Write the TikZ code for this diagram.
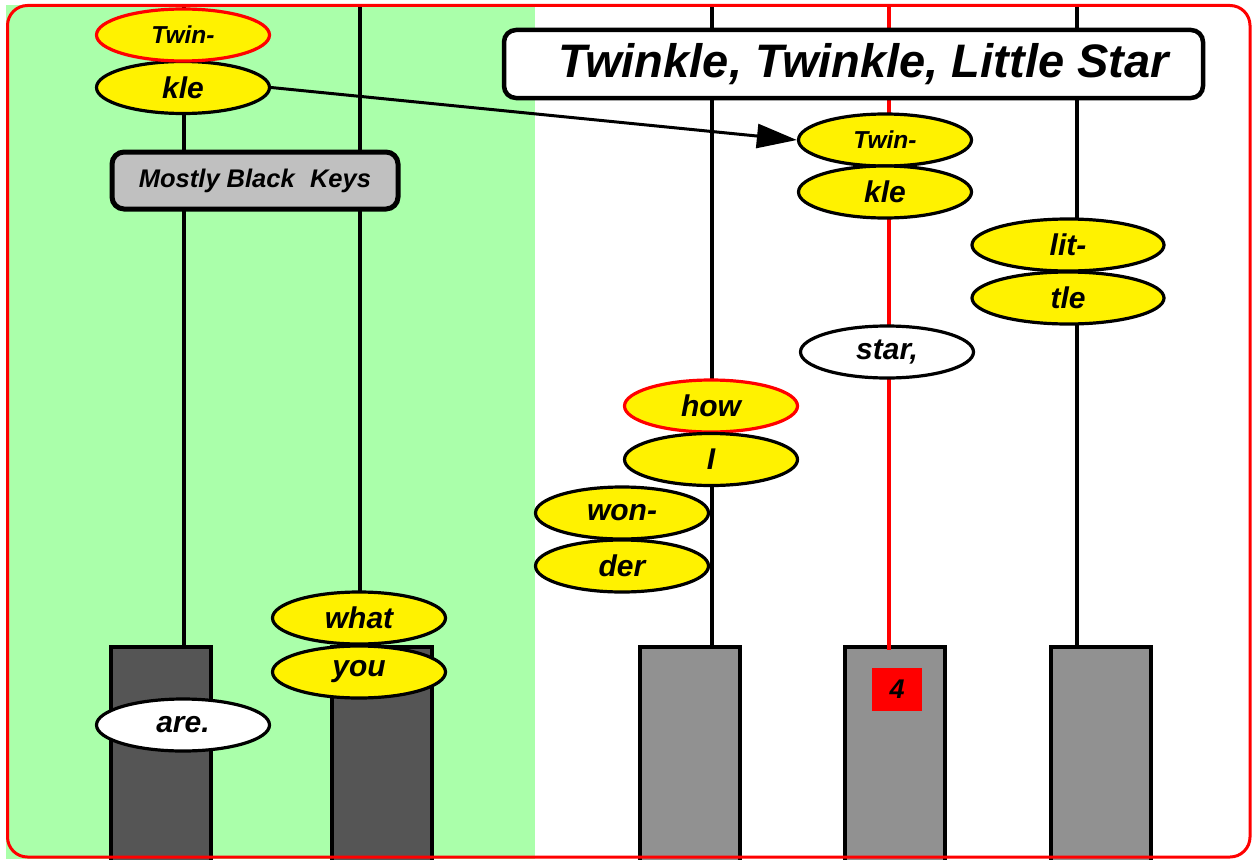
\documentclass[tikz,border=0pt]{standalone}
\usepackage{fontspec}
\setmainfont{Liberation Sans}
\usetikzlibrary{shapes.geometric,arrows.meta}
\definecolor{bggreen}{HTML}{AAFFAA}
\definecolor{darkkey}{HTML}{555555}
\definecolor{lightkey}{HTML}{919191}
\definecolor{labelgray}{HTML}{C0C0C0}
\begin{document}
\begin{tikzpicture}[x=1pt,y=-1pt,
  syl/.style={ellipse, draw=black, line width=3.2pt, fill=yellow,
    minimum width=173pt, minimum height=52pt, inner sep=0pt,
    font=\fontsize{30pt}{32pt}\selectfont\bfseries\itshape},
  sylsmall/.style={syl, font=\fontsize{24.5pt}{26pt}\selectfont\bfseries\itshape},
  wide/.style={minimum width=192pt},
  redrim/.style={draw=red},
  plain/.style={fill=white},
  keydark/.style={rectangle, draw=black, line width=4pt, fill=darkkey,
    minimum width=100pt, minimum height=222pt, anchor=north, inner sep=0pt},
  keylight/.style={keydark, fill=lightkey},
  string/.style={line width=3.2pt, draw=black},
  redstring/.style={line width=3.2pt, draw=red},
  titlebox/.style={rectangle, rounded corners=12pt, draw=black, line width=4.5pt,
    fill=white, minimum width=699pt, minimum height=68pt, inner sep=0pt,
    font=\fontsize{47pt}{50pt}\selectfont\bfseries\itshape},
  groupbox/.style={rectangle, rounded corners=12pt, draw=black, line width=5pt,
    fill=labelgray, minimum width=286pt, minimum height=57pt, inner sep=0pt,
    font=\fontsize{25.5pt}{27pt}\selectfont\bfseries\itshape},
  fingerbox/.style={rectangle, fill=red, minimum width=50pt, minimum height=43pt,
    inner sep=0pt, font=\fontsize{27pt}{29pt}\selectfont\bfseries\itshape},
  arrowline/.style={line width=3pt, -{Triangle[length=40pt,width=24pt]}}
]
\useasboundingbox (0,0) rectangle (1252,859);
% backgrounds
\fill[white] (0,0) rectangle (1252,859);
\fill[bggreen] (6,5) rectangle (535,859);

% string tops
\coordinate (top1) at (184,5);
\coordinate (top2) at (360,5);
\coordinate (top3) at (712,5);
\coordinate (top4) at (889,5);
\coordinate (top5) at (1077,5);

% keys
\node[keydark]  (key1) at (161,645) {};
\node[keydark]  (key2) at (381.5,645) {};
\node[keylight] (key3) at (689.5,645) {};
\node[keylight] (key4) at (895,645) {};
\node[keylight] (key5) at (1100.5,645) {};

% strings
\draw[string] (top1) -- (top1 |- key1.north);
\draw[string] (top2) -- (top2 |- key2.north);
\draw[string] (top3) -- (top3 |- key3.north);
\draw[redstring] (top4) -- ([yshift=-5pt]top4 |- key4.north);
\draw[string] (top5) -- (top5 |- key5.north);

\node[fingerbox] (finger) at (897,689.5) {4};

% title
\node[titlebox] (title) at (853.5,64) {\hspace{20pt}Twinkle, Twinkle, Little Star};

% group label
\node[groupbox] (group) at (255,180.5) {Mostly Black\hspace{0.6em}Keys};

% syllables
\node[syl] (kleL) at (183,87.5) {kle};
\node[sylsmall, redrim] (twinL) at (183,35) {Twin-};
\node[sylsmall] (twinR) at (885,140) {Twin-};
\node[syl] (kleR) at (885,192) {kle};
\node[syl, wide] (lit) at (1068,245) {lit-};
\node[syl, wide] (tle) at (1068,298) {tle};
\node[syl, plain] (star) at (887,352) {star,};
\node[syl, redrim] (how) at (711,406) {how};
\node[syl] (I) at (711,459.5) {I};
\node[syl] (won) at (622,513) {won-};
\node[syl] (der) at (622,566) {der};
\node[syl] (what) at (359,618) {what};
\node[syl] (you) at (359,672) {you};
\node[syl, plain] (are) at (183,725) {are.};

% arrow
\draw[arrowline] (kleL.east) -- (twinR.west);

% outer border
\draw[red, line width=3pt, rounded corners=20pt] (7.5,5.5) rectangle (1250,857);
\end{tikzpicture}
\end{document}
